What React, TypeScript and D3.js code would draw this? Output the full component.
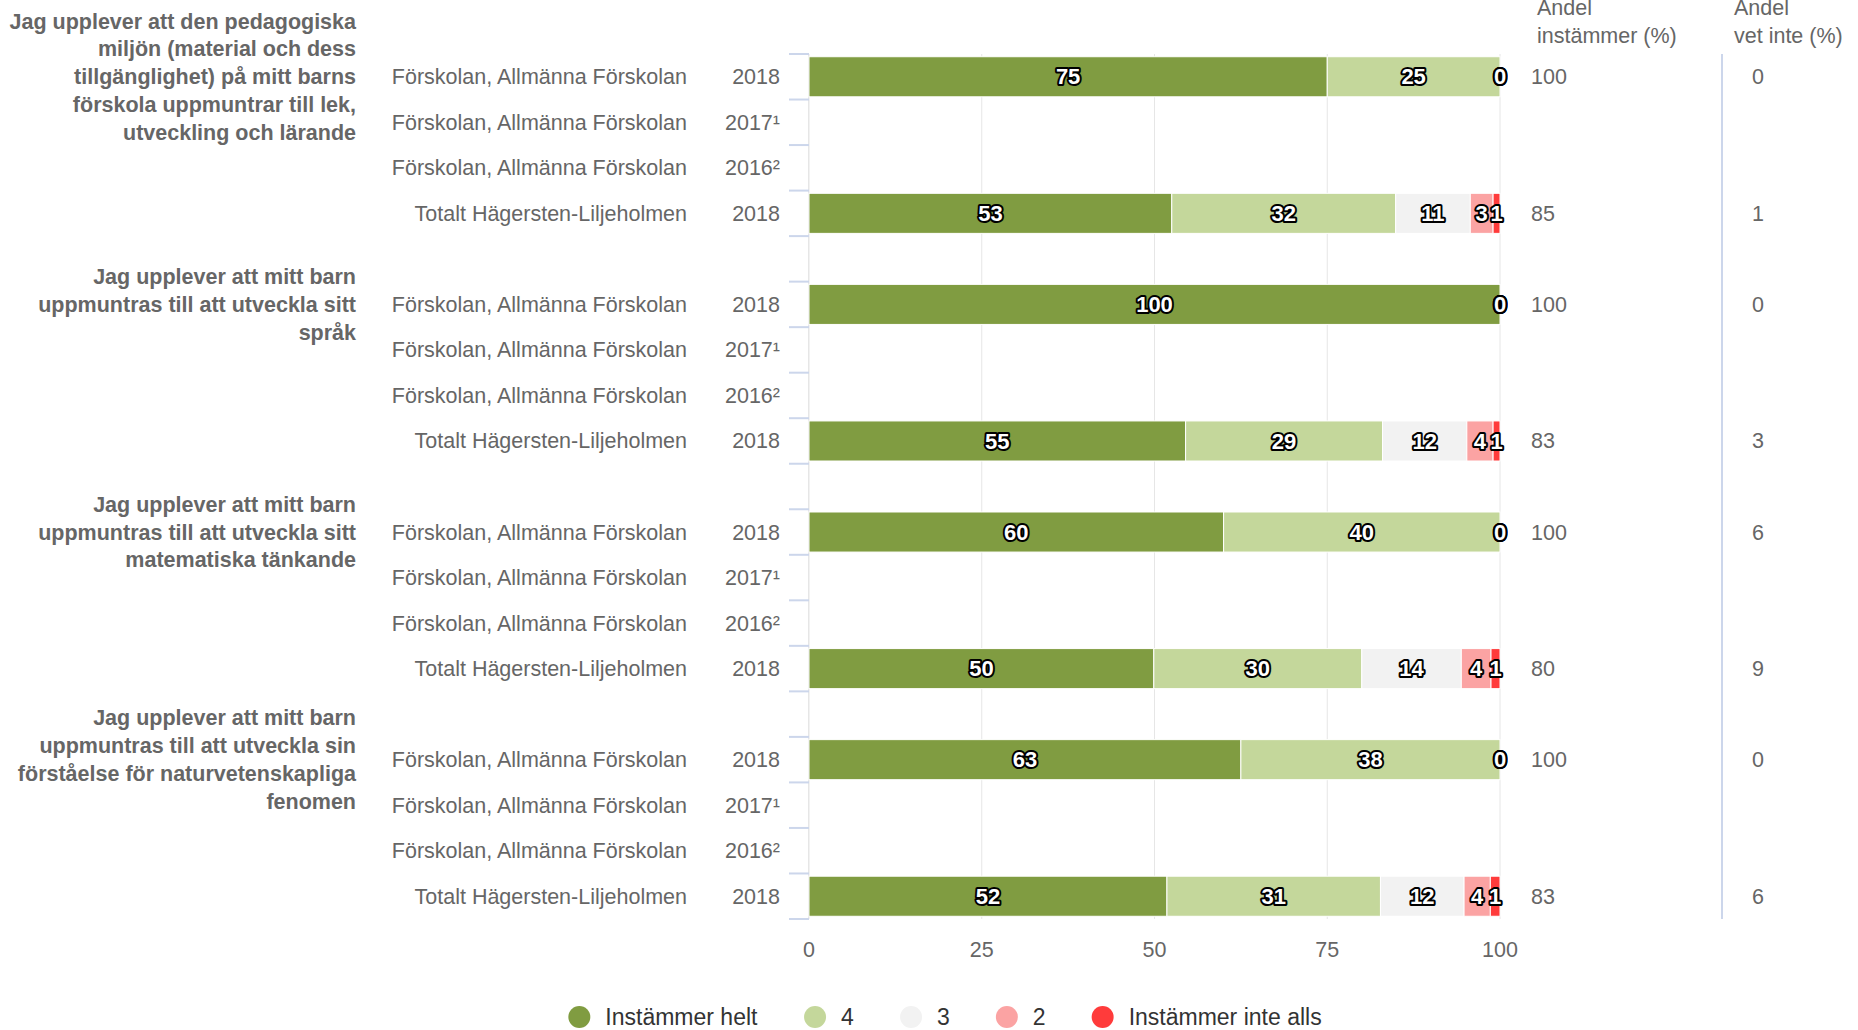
import React, { useEffect, useRef } from "react";
import * as d3 from "d3";

const FONT = '"Liberation Sans", Arial, Helvetica, sans-serif';

const headings: string[][] = [
  ["Jag upplever att den pedagogiska", "miljön (material och dess", "tillgänglighet) på mitt barns", "förskola uppmuntrar till lek,", "utveckling och lärande"],
  ["Jag upplever att mitt barn", "uppmuntras till att utveckla sitt", "språk"],
  ["Jag upplever att mitt barn", "uppmuntras till att utveckla sitt", "matematiska tänkande"],
  ["Jag upplever att mitt barn", "uppmuntras till att utveckla sin", "förståelse för naturvetenskapliga", "fenomen"],
];
const headingRows = [0, 5, 10, 15];

const F = "Förskolan, Allmänna Förskolan";
const T = "Totalt Hägersten-Liljeholmen";
const rowLabels = [F, F, F, T, "", F, F, F, T, "", F, F, F, T, "", F, F, F, T];
const rowYears = ["2018", "2017¹", "2016²", "2018", "", "2018", "2017¹", "2016²", "2018", "", "2018", "2017¹", "2016²", "2018", "", "2018", "2017¹", "2016²", "2018"];

const seriesNames = ["Instämmer helt", "4", "3", "2", "Instämmer inte alls"];
const seriesColors = ["#809c41", "#c4d79b", "#f2f2f2", "#fba3a3", "#ff3b3b"];

const helt = [75, null, null, 52.5, null, 100, null, null, 54.5, null, 60, null, null, 49.9, null, 62.5, null, null, 51.8];
const fyra = [25, null, null, 32.4, null, 0, null, null, 28.5, null, 40, null, null, 30.1, null, 37.5, null, null, 30.9];
const tre = [0, null, null, 10.8, null, 0, null, null, 12.2, null, 0, null, null, 14.4, null, 0, null, null, 12.1];
const tva = [0, null, null, 3.3, null, 0, null, null, 3.8, null, 0, null, null, 4.3, null, 0, null, null, 3.8];
const inteAlls = [0, null, null, 1.0, null, 0, null, null, 1.0, null, 0, null, null, 1.3, null, 0, null, null, 1.4];
const seriesValues = [helt, fyra, tre, tva, inteAlls];

const andelInstammer = ["100", "", "", "85", "", "100", "", "", "83", "", "100", "", "", "80", "", "100", "", "", "83"];
const andelVetInte = ["0", "", "", "1", "", "0", "", "", "3", "", "6", "", "", "9", "", "0", "", "", "6"];

const xTicks = [0, 25, 50, 75, 100];

const W = 1858;
const H = 1030;
const plotLeft = 809;
const plotRight = 1500;
const plotTop = 54;
const plotBottom = 919;

export default function App() {
  const legendRef = useRef<SVGGElement>(null);

  const x = d3.scaleLinear().domain([0, 100]).range([plotLeft, plotRight]);
  const y = d3.scaleBand<number>().domain(d3.range(rowLabels.length)).range([plotTop, plotBottom]).padding(0);
  const bw = y.bandwidth();
  const barH = bw * 0.88;
  const lineH = 27.8;

  useEffect(() => {
    const g = d3.select(legendRef.current);
    g.selectAll("*").remove();
    const r = 11;
    const textOff = 15;
    const gap = 46;
    const items = g.selectAll("g.item").data(seriesNames).join("g").attr("class", "item");
    items.append("circle").attr("r", r).attr("cx", r).attr("cy", 0).attr("fill", (_d, i) => seriesColors[i]);
    items
      .append("text")
      .attr("x", 2 * r + textOff)
      .attr("y", 0)
      .attr("dy", "0.35em")
      .attr("font-size", 23)
      .attr("fill", "#333")
      .attr("font-family", FONT)
      .text((d) => d);
    let cur = 0;
    const widths: number[] = [];
    items.each(function (this: SVGGElement) {
      widths.push(this.getBBox().width);
    });
    items.attr("transform", (_d, i) => {
      const t = `translate(${cur},0)`;
      cur += widths[i] + gap;
      return t;
    });
    const total = cur - gap;
    g.attr("transform", `translate(${945 - total / 2},1017)`);
  }, []);

  return (
    <svg width={W} height={H} style={{ position: "absolute", left: 0, top: 0, background: "#fff" }} fontFamily={FONT}>
      {/* grid lines */}
      {xTicks.map((t) => (
        <line key={"g" + t} x1={x(t)} x2={x(t)} y1={plotTop} y2={plotBottom} stroke="#e6e6e6" strokeWidth={1} />
      ))}
      {/* category axis line + ticks */}
      <line x1={plotLeft - 0.5} x2={plotLeft - 0.5} y1={plotTop} y2={plotBottom} stroke="#e6e6e6" strokeWidth={1} />
      {d3.range(rowLabels.length + 1).map((k) => {
        const yy = plotTop + k * bw;
        return <line key={"t" + k} x1={plotLeft - 20} x2={plotLeft} y1={yy} y2={yy} stroke="#ccd6eb" strokeWidth={2} />;
      })}
      {/* x tick labels */}
      {xTicks.map((t) => (
        <text key={"xl" + t} x={x(t)} y={949} dy="0.35em" textAnchor="middle" fontSize={21.5} fill="#666">
          {t}
        </text>
      ))}
      {/* row labels */}
      {rowLabels.map((l, i) => (
        <g key={"rl" + i}>
          <text x={687} y={(y(i) as number) + bw / 2} dy="0.35em" textAnchor="end" fontSize={21.5} fill="#666">
            {l}
          </text>
          <text x={780} y={(y(i) as number) + bw / 2} dy="0.35em" textAnchor="end" fontSize={21.5} fill="#666">
            {rowYears[i]}
          </text>
        </g>
      ))}
      {/* headings */}
      {headings.map((lines, gi) => {
        const cy = (y(headingRows[gi]) as number) + bw / 2;
        const y0 = cy - ((lines.length - 1) * lineH) / 2;
        return (
          <text key={"h" + gi} textAnchor="end" fontSize={21.5} fontWeight="bold" fill="#666">
            {lines.map((ln, li) => (
              <tspan key={li} x={356} y={y0 + li * lineH} dy="0.35em">
                {ln}
              </tspan>
            ))}
          </text>
        );
      })}
      {/* bars */}
      {seriesValues.map((vals, si) =>
        vals.map((v, i) => {
          if (v === null) return null;
          let start = 0;
          for (let k = 0; k < si; k++) start += (seriesValues[k][i] as number) || 0;
          const x0 = x(start);
          const x1 = x(start + v);
          const yy = (y(i) as number) + (bw - barH) / 2;
          return v > 0 ? (
            <rect key={`b${si}-${i}`} x={x0} y={yy} width={x1 - x0} height={barH} fill={seriesColors[si]} stroke="#fff" strokeWidth={1} />
          ) : null;
        })
      )}
      {/* data labels */}
      {seriesValues.map((vals, si) =>
        vals.map((v, i) => {
          if (v === null) return null;
          let start = 0;
          for (let k = 0; k < si; k++) start += (seriesValues[k][i] as number) || 0;
          const cx = x(start + v / 2);
          return (
            <text
              key={`l${si}-${i}`}
              x={cx}
              y={(y(i) as number) + bw / 2}
              dy="0.35em"
              textAnchor="middle"
              fontSize={22}
              fontWeight="bold"
              fill="#fff"
              stroke="#000"
              strokeWidth={4}
              strokeLinejoin="round"
              style={{ paintOrder: "stroke" }}
            >
              {Math.round(v)}
            </text>
          );
        })
      )}
      {/* right columns */}
      <line x1={1722} x2={1722} y1={plotTop} y2={plotBottom} stroke="#ccd6eb" strokeWidth={2} />
      <text fontSize={21.5} fill="#666">
        <tspan x={1537} y={15}>Andel</tspan>
        <tspan x={1537} y={43}>instämmer (%)</tspan>
      </text>
      <text fontSize={21.5} fill="#666">
        <tspan x={1734} y={15}>Andel</tspan>
        <tspan x={1734} y={43}>vet inte (%)</tspan>
      </text>
      {andelInstammer.map((v, i) => (
        <text key={"ai" + i} x={1531} y={(y(i) as number) + bw / 2} dy="0.35em" fontSize={21.5} fill="#666">
          {v}
        </text>
      ))}
      {andelVetInte.map((v, i) => (
        <text key={"av" + i} x={1758} y={(y(i) as number) + bw / 2} dy="0.35em" textAnchor="middle" fontSize={21.5} fill="#666">
          {v}
        </text>
      ))}
      <g ref={legendRef} />
    </svg>
  );
}
